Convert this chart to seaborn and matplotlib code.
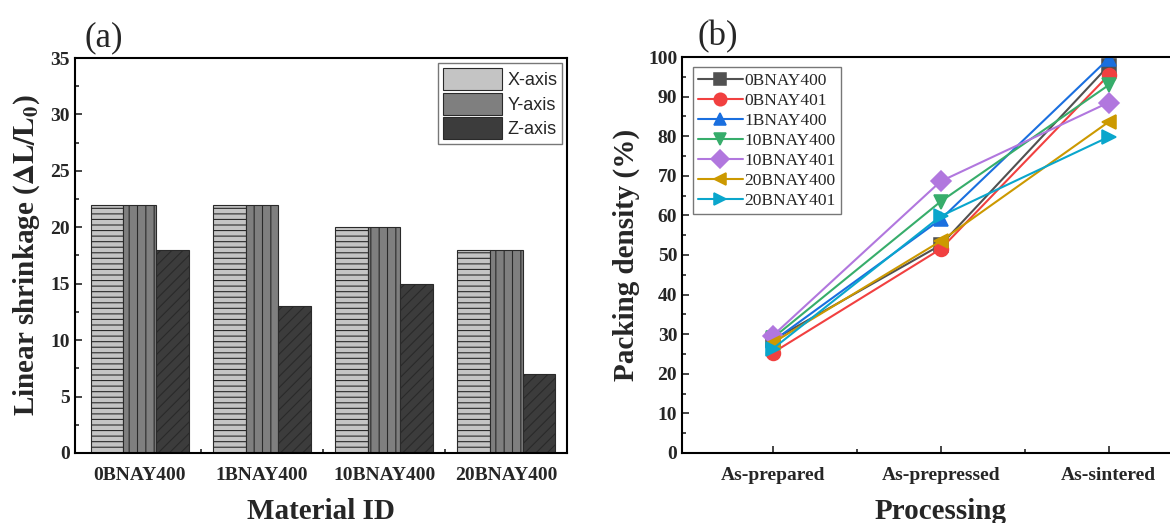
import pandas as pd
import seaborn as sns
import matplotlib.pyplot as plt
import numpy as np

sns.set_style('white')
plt.rcParams['font.family'] = ['Liberation Serif', 'DejaVu Serif']
plt.rcParams['mathtext.fontset'] = 'stix'
plt.rcParams['hatch.linewidth'] = 0.8

# (a) 线性收缩数据
materials = ['0BNAY400', '1BNAY400', '10BNAY400', '20BNAY400']
axes_dir = ['X-axis', 'Y-axis', 'Z-axis']
x_shrink = [22, 22, 20, 18]
y_shrink = [22, 22, 20, 18]
z_shrink = [18, 13, 15, 7]

# (b) 堆积密度数据
stages = ['As-prepared', 'As-prepressed', 'As-sintered']
samples = ['0BNAY400', '0BNAY401', '1BNAY400', '10BNAY400', '10BNAY401', '20BNAY400', '20BNAY401']
d_0bnay400 = [28.5, 52.5, 97.8]
d_0bnay401 = [25.3, 51.5, 95.4]
d_1bnay400 = [28.2, 59.0, 99.6]
d_10bnay400 = [29.0, 63.5, 92.9]
d_10bnay401 = [29.6, 68.6, 88.5]
d_20bnay400 = [27.8, 53.5, 83.6]
d_20bnay401 = [26.3, 59.8, 79.8]

shrink = pd.DataFrame({
    'Material': materials * 3,
    'Axis': np.repeat(axes_dir, len(materials)),
    'Shrinkage': x_shrink + y_shrink + z_shrink,
})
density_rows = [d_0bnay400, d_0bnay401, d_1bnay400, d_10bnay400,
                d_10bnay401, d_20bnay400, d_20bnay401]
density = pd.DataFrame({
    'Sample': np.repeat(samples, len(stages)),
    'Stage': stages * len(samples),
    'Density': np.concatenate(density_rows),
})

fig = plt.figure(figsize=(11.7, 5.23), dpi=100)
ax1 = fig.add_axes([0.064, 0.134, 0.421, 0.755])
ax2 = fig.add_axes([0.583, 0.134, 0.442, 0.757])

# 柱状图
bar_colors = ['#c4c4c4', '#7f7f7f', '#3c3c3c']
hatches = ['---', '||', '///']
sns.barplot(data=shrink, x='Material', y='Shrinkage', hue='Axis',
            palette=bar_colors, width=0.8, edgecolor='#2a2a2a',
            linewidth=0.8, ax=ax1, saturation=1)
for cont, h in zip(ax1.containers, hatches):
    for p in cont:
        p.set_hatch(h)
ax1.set_xlim(-0.53, 3.5)
ax1.set_ylim(0, 35)
ax1.set_yticks(range(0, 36, 5))
ax1.set_yticks(np.arange(2.5, 35, 5), minor=True)
ax1.set_xticks([0.5, 1.5, 2.5], minor=True)
ax1.set_xlabel('Material ID', fontsize=21, fontweight='bold', labelpad=10)
ax1.set_ylabel(r'Linear shrinkage ($\mathbf{\Delta L/L_0}$)', fontsize=21,
               fontweight='bold', labelpad=6)
leg1 = ax1.legend(loc='upper right', prop={'family': 'Liberation Sans', 'size': 13},
                  handlelength=3.3, handleheight=1.5, handletextpad=0.3,
                  labelspacing=0.15, borderpad=0.25, fancybox=False,
                  edgecolor='#555555', borderaxespad=0.3)
ax1.text(0.02, 1.03, '(a)', transform=ax1.transAxes, fontsize=25)

# 折线图
line_colors = ['#515151', '#f14040', '#1a6fdf', '#37ad6b', '#b177de', '#cc9900', '#0aa6cc']
markers = ['s', 'o', '^', 'v', 'D', '<', '>']
sns.pointplot(data=density, x='Stage', y='Density', hue='Sample',
              palette=line_colors, markers=markers, linestyles='-',
              markersize=10, linewidth=1.5, ax=ax2, errorbar=None)
ax2.set_xlim(-0.54, 2.54)
ax2.set_ylim(0, 100)
ax2.set_yticks(range(0, 101, 10))
ax2.set_yticks(np.arange(5, 100, 10), minor=True)
ax2.set_xticks([0.5, 1.5], minor=True)
ax2.set_xlabel('Processing', fontsize=21, fontweight='bold', labelpad=10)
ax2.set_ylabel('Packing density (%)', fontsize=21, fontweight='bold', labelpad=6)
leg2 = ax2.legend(loc='upper left', prop={'size': 12.5}, handlelength=2.6,
                  handletextpad=0.1, labelspacing=0.22, borderpad=0.3,
                  fancybox=False, edgecolor='#555555', borderaxespad=0.6)
for ln in leg2.get_lines():
    ln.set_markersize(9)
ax2.text(0.03, 1.03, '(b)', transform=ax2.transAxes, fontsize=25)

for ax in (ax1, ax2):
    for s in ax.spines.values():
        s.set_linewidth(1.5)
        s.set_color('black')
    ax.tick_params(which='both', direction='in', width=1.2)
    ax.tick_params(which='major', length=5, labelsize=14)
    ax.tick_params(which='minor', length=3)
    ax.tick_params(axis='x', which='major', pad=10)
    ax.tick_params(left=True, bottom=True, which='both')
    for lab in ax.get_xticklabels() + ax.get_yticklabels():
        lab.set_fontweight('bold')

fig.savefig('out.png', dpi=100)
